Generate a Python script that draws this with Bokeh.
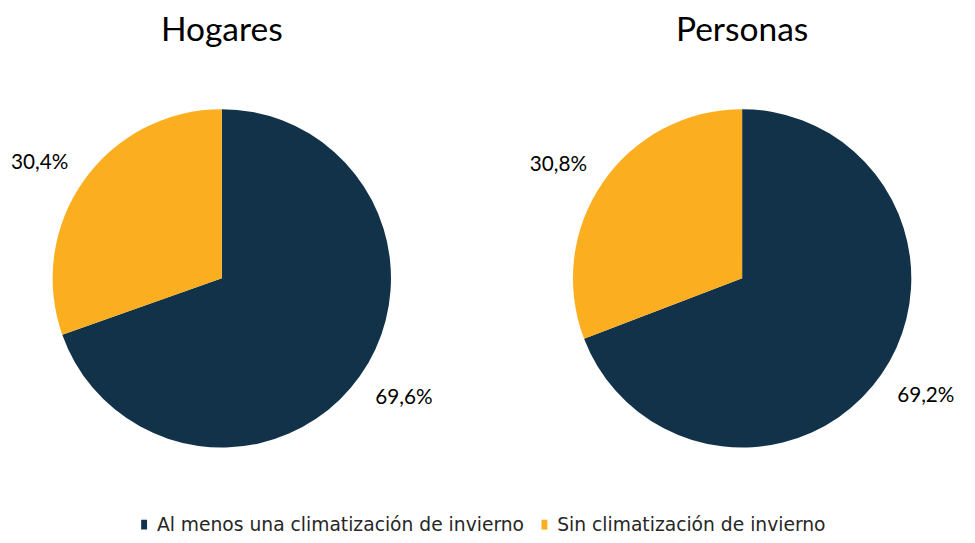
import math
from bokeh.plotting import figure
from bokeh.models import ColumnDataSource, Range1d
from bokeh.core.properties import value
from bokeh.embed import file_html
from bokeh.resources import INLINE

# ---- data ----
categories = ["Al menos una climatización de invierno", "Sin climatización de invierno"]
hogares = [69.6, 30.4]
personas = [69.2, 30.8]
titles = ["Hogares", "Personas"]
colors = ["#12324A", "#FBAE1F"]

W, H = 959, 535
SX, SY = W / 975, H / 543   # layout designed on a 975x543 canvas
p = figure(width=W, height=H, output_backend="svg", toolbar_location=None,
           x_range=Range1d(0, 975), y_range=Range1d(0, 543), min_border=0)
p.axis.visible = False
p.grid.visible = False
p.outline_line_color = None
p.background_fill_color = "white"
p.border_fill_color = "white"

font = value("Lato")
S = (SX + SY) / 2

def py(y):  # screen y -> data y
    return 543 - y

def fs(px):
    return f"{px * S:.1f}px"

centers = [(225, py(282)), (754, py(282))]
radius = 172

for (cx, cy), vals, title in zip(centers, [hogares, personas], titles):
    total = sum(vals)
    start = math.pi / 2
    starts, ends, lx, ly, labs = [], [], [], [], []
    for v in vals:
        sweep = 2 * math.pi * v / total
        end = start - sweep
        starts.append(start)
        ends.append(end)
        mid = (start + end) / 2
        r = radius * 1.28
        lx.append(cx + r * math.cos(mid) * 1.03)
        ly.append(cy + r * math.sin(mid) * 0.94)
        labs.append(f"{v:.1f}%".replace(".", ","))
        start = end
    src = ColumnDataSource(dict(start=starts, end=ends, color=colors))
    p.wedge(x=cx, y=cy, radius=radius, start_angle="start", end_angle="end",
            direction="clock", fill_color="color", line_color=None, source=src)
    p.text(x=lx, y=ly, text=labs, text_font=font, text_font_size=fs(21),
           text_align="center", text_baseline="middle", text_color="#000000")
    p.text(x=[cx], y=[py(28)], text=[title], text_font=font, text_font_size=fs(34),
           text_align="center", text_baseline="middle", text_color="#000000")

# legend
leg_x = [146, 553]
leg_y = py(532)
p.rect(x=leg_x, y=[leg_y, leg_y], width=6, height=10, fill_color=colors, line_color=None)
p.text(x=[x + 13 for x in leg_x], y=[leg_y, leg_y], text=categories, text_font=value("DejaVu Sans"),
       text_font_size=fs(19), text_align="left", text_baseline="middle", text_color="#262626")

open("out.html", "w").write(file_html(p, INLINE))
